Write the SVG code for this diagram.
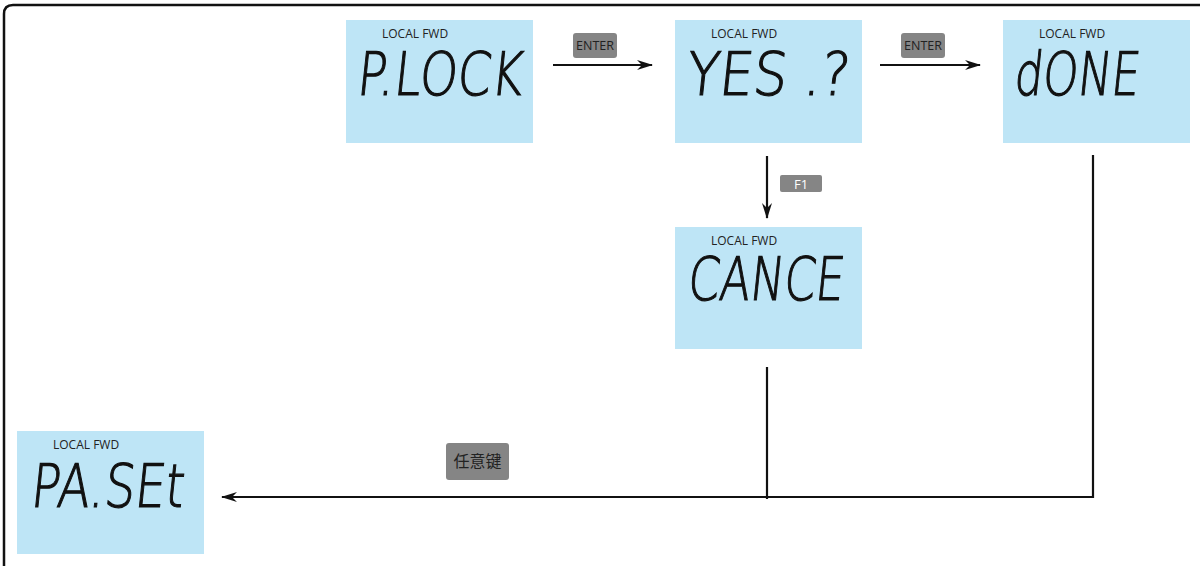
<svg xmlns="http://www.w3.org/2000/svg" width="1200" height="566" viewBox="0 0 1200 566">
<style>
.box{fill:#bee5f6}
.lbl{font-family:"Open Sans","Liberation Sans",sans-serif;font-size:12px;fill:#222}
.seg{font-family:"DejaVu Sans","Liberation Sans",sans-serif;font-weight:200;font-size:60px;fill:#111;stroke:#111;stroke-width:1.2}
.key{fill:#858585}
.keyt{font-family:"Open Sans","Liberation Sans",sans-serif;font-size:12.5px;fill:#222}
.conn{stroke:#111;stroke-width:2.2;fill:none}
</style>
<defs>
<marker id="ah" viewBox="0 0 16 10" refX="15" refY="5" markerWidth="16" markerHeight="10" markerUnits="userSpaceOnUse" orient="auto">
<path d="M0,0 L16,5 L0,10 L5,5 z" fill="#111"/>
</marker>
</defs>
<rect width="1200" height="566" fill="#fff"/>
<path d="M4,566 V14 Q4,5 13,5 H1200" fill="none" stroke="#111" stroke-width="2.5"/>

<g id="node-plock">
<rect class="box" x="346" y="20" width="187" height="123"/>
<text class="lbl" x="382" y="38">LOCAL FWD</text>
<text class="seg" x="356" y="95" textLength="165" lengthAdjust="spacingAndGlyphs" transform="translate(10,0) skewX(-6)">P.LOCK</text>
</g>
<g id="node-yes">
<rect class="box" x="675" y="20" width="187" height="123"/>
<text class="lbl" x="711" y="38">LOCAL FWD</text>
<text class="seg" x="685" y="95" textLength="163" lengthAdjust="spacingAndGlyphs" transform="translate(10,0) skewX(-6)">YES .?</text>
</g>
<g id="node-done">
<rect class="box" x="1003" y="20" width="187" height="123"/>
<text class="lbl" x="1039" y="38">LOCAL FWD</text>
<text class="seg" x="1013" y="95" textLength="125" lengthAdjust="spacingAndGlyphs" transform="translate(10,0) skewX(-6)">dONE</text>
</g>
<g id="node-cance">
<rect class="box" x="675" y="227" width="187" height="122"/>
<text class="lbl" x="711" y="245">LOCAL FWD</text>
<text class="seg" x="687" y="300" textLength="156" lengthAdjust="spacingAndGlyphs" transform="translate(31,0) skewX(-6)">CANCE</text>
</g>
<g id="node-paset">
<rect class="box" x="17" y="431" width="187" height="123"/>
<text class="lbl" x="53" y="449">LOCAL FWD</text>
<text class="seg" x="30" y="507" textLength="153" lengthAdjust="spacingAndGlyphs" transform="translate(53,0) skewX(-6)">PA.SEt</text>
</g>

<g id="connectors">
<line class="conn" x1="553" y1="65" x2="652" y2="65" marker-end="url(#ah)"/>
<line class="conn" x1="880" y1="65" x2="980" y2="65" marker-end="url(#ah)"/>
<line class="conn" x1="767" y1="156" x2="767" y2="218" marker-end="url(#ah)"/>
<line class="conn" x1="767" y1="367" x2="767" y2="499"/>
<path class="conn" d="M1093,155 V497 H222" marker-end="url(#ah)"/>
</g>

<g id="label-enter1">
<rect class="key" x="573" y="33" width="44" height="25" rx="3"/>
<text class="keyt" x="595" y="50" text-anchor="middle">ENTER</text>
</g>
<g id="label-enter2">
<rect class="key" x="901" y="33" width="44" height="25" rx="3"/>
<text class="keyt" x="923" y="50" text-anchor="middle">ENTER</text>
</g>
<g id="label-f1">
<rect class="key" x="780" y="175" width="42" height="17" rx="2"/>
<text class="keyt" x="801" y="188.5" text-anchor="middle" style="fill:#fff;font-size:13px">F1</text>
</g>
<g id="label-anykey">
<rect class="key" x="446" y="443" width="63" height="37" rx="3"/>
<text x="477.5" y="467" text-anchor="middle" style="font-family:'Noto Sans CJK SC',sans-serif;font-size:16px;fill:#222">任意键</text>
</g>
</svg>
